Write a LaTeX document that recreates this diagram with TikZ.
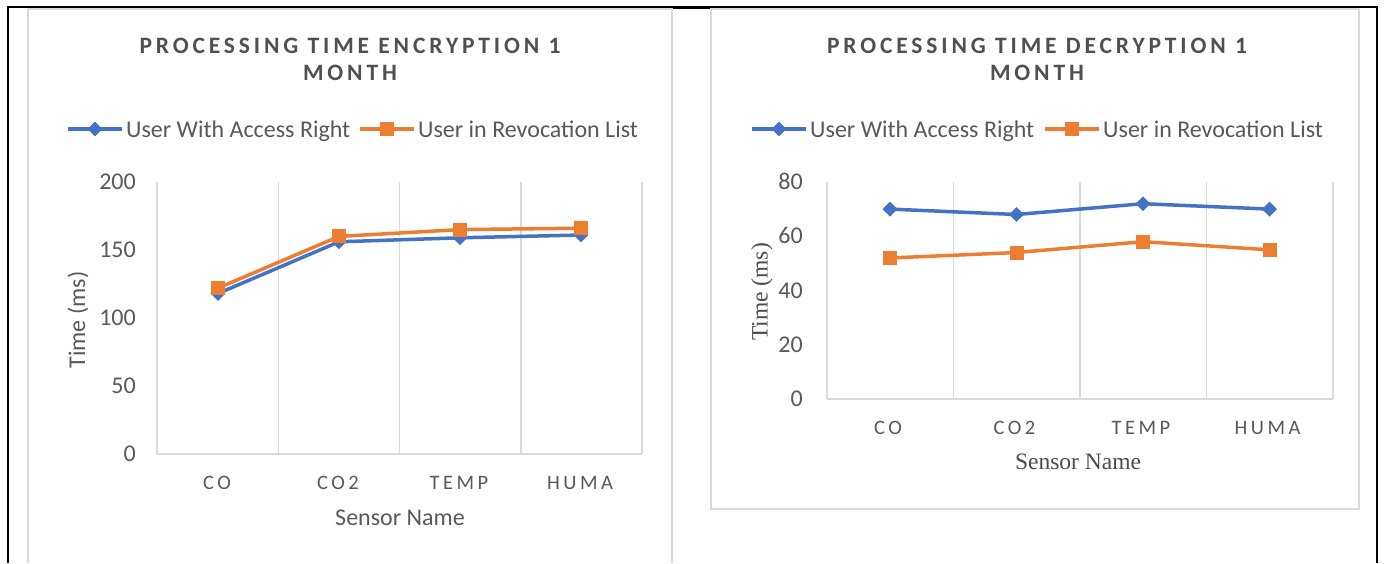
\documentclass[tikz,border=0pt]{standalone}
\usepackage{fontspec}
\setmainfont{Carlito}
\newfontfamily\ttlfont[LetterSpace=16.5]{Carlito}
\newfontfamily\catfont[LetterSpace=17]{Carlito}
\newfontfamily\tmsfont{Liberation Serif}
\usetikzlibrary{shapes.geometric}
\definecolor{xlblue}{HTML}{4472C4}
\definecolor{xlorange}{HTML}{ED7D31}
\definecolor{gridgray}{HTML}{D9D9D9}
\definecolor{txtgray}{HTML}{595959}
\begin{document}
\begin{tikzpicture}[x=1pt,y=-1pt,
  frameln/.style={draw=black,line width=2pt},
  chartbox/.style={draw=gridgray,line width=1.5pt},
  gridln/.style={draw=gridgray,line width=1.5pt},
  blueline/.style={draw=xlblue,line width=3.5pt,line join=round},
  orangeline/.style={draw=xlorange,line width=3.5pt,line join=round},
  diam/.style={diamond,aspect=1,fill=xlblue,inner sep=0pt,minimum size=15pt},
  sqmark/.style={rectangle,fill=xlorange,inner sep=0pt,minimum size=14pt},
  ttl/.style={text=txtgray!90!black,font=\fontsize{23.5}{27}\selectfont\ttlfont\bfseries,anchor=base},
  lgd/.style={text=txtgray,font=\fontsize{24}{28}\selectfont,anchor=base west,inner sep=0pt},
  tick/.style={text=txtgray,font=\fontsize{24}{28}\selectfont,anchor=base east,inner sep=0pt},
  cat/.style={text=txtgray,font=\fontsize{20.5}{24}\selectfont\catfont,anchor=base,inner sep=0pt},
  axttl/.style={text=txtgray,font=\fontsize{24}{28}\selectfont,inner sep=0pt},
  axttlserif/.style={text=txtgray!85!black,font=\fontsize{23.5}{27}\selectfont\tmsfont,inner sep=0pt}]
\useasboundingbox[fill=white] (0,0) rectangle (1384,563);

% outer table frame
\draw[frameln] (8,563) -- (8,7) -- (1377,7) -- (1377,563);
\draw[draw=black,line width=3pt] (673,7) -- (711,7);

% ---------------- encryption chart ----------------
\draw[chartbox] (28,9) -- (28,563);
\draw[chartbox] (28,9) -- (672,9) -- (672,563);

\node[ttl] (ttlA1) at (350,53) {PROCESSING TIME ENCRYPTION 1};
\node[ttl] (ttlA2) at (350,80) {MONTH};

% legend
\coordinate (lgA1) at (68,129);
\coordinate (lgA2) at (122,129);
\coordinate (lgA3) at (360,129);
\coordinate (lgA4) at (414,129);
\draw[blueline] (lgA1) -- (lgA2);
\node[diam] (lgAm1) at (95,129) {};
\node[lgd] (lgAt1) at (126,137.5) {User With Access Right};
\draw[orangeline] (lgA3) -- (lgA4);
\node[sqmark] (lgAm2) at (387,129) {};
\node[lgd] (lgAt2) at (418,137.5) {User in Revocation List};

% grid and axis
\foreach \gx in {157,278.25,399.5,520.75,642}
  \draw[gridln] (\gx,182) -- (\gx,454);
\draw[gridln] (157,454) -- (642,454);

\foreach \v/\gy in {200/182,150/250,100/318,50/386,0/454}
  \node[tick] at (136,\gy+7.5) {\v};

\node[cat] (cA1) at (217,489) {CO};
\node[cat] (cA2) at (338,489) {CO2};
\node[cat] (cA3) at (459,489) {TEMP};
\node[cat] (cA4) at (580,489) {HUMA};

\node[axttl,rotate=90] (yA) at (78,320) {Time (ms)};
\node[axttl] (xA) at (400,518) {Sensor Name};

% data
\coordinate (ab1) at (218,293.5);
\coordinate (ab2) at (339,241.8);
\coordinate (ab3) at (460,237.8);
\coordinate (ab4) at (581,235.0);
\coordinate (ao1) at (218,288.1);
\coordinate (ao2) at (339,236.4);
\coordinate (ao3) at (460,229.6);
\coordinate (ao4) at (581,228.2);
\draw[blueline] (ab1) -- (ab2) -- (ab3) -- (ab4);
\foreach \i in {1,...,4} \node[diam] (mab\i) at (ab\i) {};
\draw[orangeline] (ao1) -- (ao2) -- (ao3) -- (ao4);
\foreach \i in {1,...,4} \node[sqmark] (mao\i) at (ao\i) {};

% ---------------- decryption chart ----------------
\draw[chartbox] (711,9) rectangle (1359,509);

\node[ttl] (ttlB1) at (1037,53) {PROCESSING TIME DECRYPTION 1};
\node[ttl] (ttlB2) at (1037,80) {MONTH};

% legend
\coordinate (lgB1) at (752,129);
\coordinate (lgB2) at (806,129);
\coordinate (lgB3) at (1045,129);
\coordinate (lgB4) at (1099,129);
\draw[blueline] (lgB1) -- (lgB2);
\node[diam] (lgBm1) at (779,129) {};
\node[lgd] (lgBt1) at (810,137.5) {User With Access Right};
\draw[orangeline] (lgB3) -- (lgB4);
\node[sqmark] (lgBm2) at (1072,129) {};
\node[lgd] (lgBt2) at (1103,137.5) {User in Revocation List};

% grid and axis
\foreach \gx in {827,953.5,1080,1206.5,1333}
  \draw[gridln] (\gx,182) -- (\gx,399);
\draw[gridln] (827,399) -- (1333,399);

\foreach \v/\gy in {80/182,60/236.25,40/290.5,20/344.75,0/399}
  \node[tick] at (803,\gy+7.5) {\v};

\node[cat] (cB1) at (888,434) {CO};
\node[cat] (cB2) at (1014.5,434) {CO2};
\node[cat] (cB3) at (1141,434) {TEMP};
\node[cat] (cB4) at (1267.5,434) {HUMA};

\node[axttlserif,rotate=90] (yB) at (762,292) {Time (ms)};
\node[axttlserif] (xB) at (1078,462) {Sensor Name};

% data
\coordinate (bb1) at (890,209.1);
\coordinate (bb2) at (1016.5,214.5);
\coordinate (bb3) at (1143,203.7);
\coordinate (bb4) at (1269.5,209.1);
\coordinate (bo1) at (890,258.0);
\coordinate (bo2) at (1016.5,252.5);
\coordinate (bo3) at (1143,241.7);
\coordinate (bo4) at (1269.5,249.8);
\draw[blueline] (bb1) -- (bb2) -- (bb3) -- (bb4);
\foreach \i in {1,...,4} \node[diam] (mbb\i) at (bb\i) {};
\draw[orangeline] (bo1) -- (bo2) -- (bo3) -- (bo4);
\foreach \i in {1,...,4} \node[sqmark] (mbo\i) at (bo\i) {};
\end{tikzpicture}
\end{document}
